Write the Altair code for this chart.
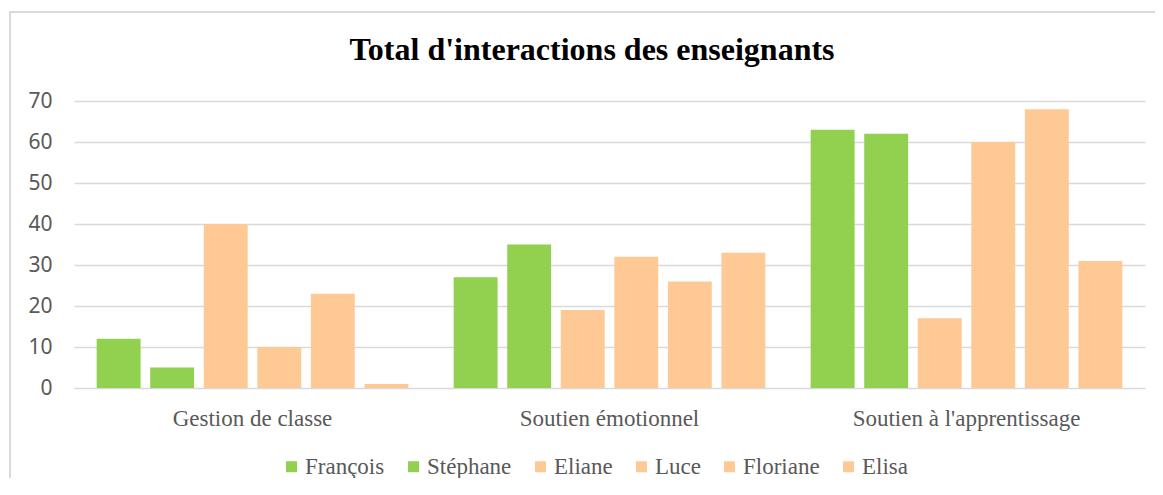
import altair as alt
import pandas as pd

categories = ["Gestion de classe", "Soutien émotionnel", "Soutien à l'apprentissage"]
teachers = ["François", "Stéphane", "Eliane", "Luce", "Floriane", "Elisa"]
colors = ["#92D050", "#92D050", "#FFC995", "#FFC995", "#FFC995", "#FFC995"]
values = {
    "François": [12, 27, 63],
    "Stéphane": [5, 35, 62],
    "Eliane": [40, 19, 17],
    "Luce": [10, 32, 60],
    "Floriane": [23, 26, 68],
    "Elisa": [1, 33, 31],
}
title_text = "Total d'interactions des enseignants"

rows = []
for t in teachers:
    for c, v in zip(categories, values[t]):
        rows.append({"Catégorie": c, "Enseignant": t, "Valeur": v})
df = pd.DataFrame(rows)

W, H = 1071, 287
SERIF = "Liberation Serif, Times New Roman, serif"

frame = alt.Chart(pd.DataFrame({"a": [0]})).mark_rect(
    fill="transparent", stroke="#d9d9d9", strokeWidth=2
).encode(
    x=alt.value(-64), x2=alt.value(1120), y=alt.value(-89), y2=alt.value(420)
)

title = alt.Chart(pd.DataFrame({"t": [title_text]})).mark_text(
    font=SERIF, fontSize=32, fontWeight="bold", color="#000000",
    align="center", baseline="middle"
).encode(text="t:N", x=alt.value(518), y=alt.value(-51))

x_enc = alt.X("Catégorie:N", sort=categories, title=None,
              scale=alt.Scale(paddingInner=0.1, paddingOuter=0.05),
              axis=alt.Axis(labelAngle=0, labelFont=SERIF, labelFontSize=23, labelLimit=0,
                            labelColor="#595959", ticks=False, domain=False, labelPadding=19))
y_enc = alt.Y("Valeur:Q", title=None,
              scale=alt.Scale(domain=[0, 70]),
              axis=alt.Axis(values=[0, 10, 20, 30, 40, 50, 60, 70], labelFont="Noto Sans",
                            labelFontSize=21, labelColor="#595959", ticks=False, domain=False,
                            labelPadding=22, gridColor="#d9d9d9", gridWidth=1.5))
xoff = alt.XOffset("Enseignant:N", sort=teachers,
                   scale=alt.Scale(paddingInner=0.18, paddingOuter=0.09))

bars = alt.Chart(df).mark_bar().encode(
    x=x_enc,
    xOffset=xoff,
    y=y_enc,
    color=alt.Color("Enseignant:N", sort=teachers,
                    scale=alt.Scale(domain=teachers, range=colors),
                    legend=alt.Legend(title=None, orient="none", direction="horizontal",
                                      legendX=206, legendY=354, symbolType="square",
                                      symbolSize=121, symbolStrokeWidth=0,
                                      labelFont=SERIF, labelFontSize=23, labelOffset=2,
                                      labelColor="#595959", columnPadding=17,
                                      symbolOpacity=1)),
)

chart = alt.layer(frame, bars, title).properties(
    width=W, height=H,
    autosize=alt.AutoSizeParams(type="none"),
    padding={"left": 66, "top": 93, "right": 10, "bottom": 90},
).configure_view(stroke=None).configure_axisY(zindex=0)

chart.save("out.html", embed_options={"renderer": "svg", "actions": False})
